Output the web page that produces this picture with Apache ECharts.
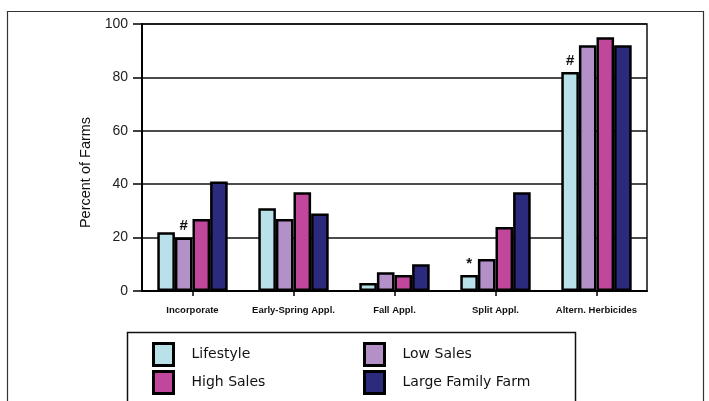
<!DOCTYPE html>
<html><head><meta charset="utf-8">
<script src="https://cdn.jsdelivr.net/npm/echarts@6/dist/echarts.min.js"></script>
<style>html,body{margin:0;padding:0;background:#fff}#c{width:709px;height:401px}</style>
</head><body><div id="c"></div>
<script>
const categories = ['Incorporate', 'Early-Spring Appl.', 'Fall Appl.', 'Split Appl.', 'Altern. Herbicides'];
const seriesNames = ['Lifestyle', 'Low Sales', 'High Sales', 'Large Family Farm'];
const lifestyle = [22, 31, 3, 6, 82];
const lowSales = [20, 27, 7, 12, 92];
const highSales = [27, 37, 6, 24, 95];
const largeFamilyFarm = [41, 29, 10, 37, 92];
// annotation marks: [series index, category index, symbol]
const marks = [[1, 0, '#'], [0, 3, '*'], [0, 4, '#']];
const yTicks = [0, 20, 40, 60, 80, 100];

const colors = ['#b9e1ea', '#b490c9', '#c1479c', '#2c2a7c'];
const values = [lifestyle, lowSales, highSales, largeFamilyFarm];

const series = values.map((vals, si) => ({
  name: seriesNames[si],
  type: 'bar',
  barWidth: 17.6,
  barGap: '0%',
  itemStyle: { color: colors[si], borderColor: '#000', borderWidth: 2.5 },
  data: vals.map((v, ci) => {
    const m = marks.find(k => k[0] === si && k[1] === ci);
    const d = { value: v };
    if (m) d.label = { show: true, position: 'top', formatter: m[2], fontSize: 15, fontWeight: 'bold', color: '#111', distance: 4, fontFamily: 'Liberation Sans' };
    return d;
  })
}));

const legendPos = [[152, 342], [363, 342], [152, 370], [363, 370]];
const legends = seriesNames.map((n, i) => ({
  data: [{ name: n, icon: 'rect', itemStyle: { borderColor: '#000', borderWidth: 3 } }],
  left: legendPos[i][0], top: legendPos[i][1],
  itemWidth: 20, itemHeight: 22, padding: 0,
  textStyle: { fontFamily: 'DejaVu Sans', fontSize: 14, color: '#111', padding: [0, 0, 0, 13] }
}));

const chart = echarts.init(document.getElementById('c'));
chart.setOption({
  animation: false,
  backgroundColor: '#fff',
  graphic: [
    { type: 'rect', shape: { x: 7.5, y: 11.5, width: 696, height: 500 }, style: { fill: 'none', stroke: '#333', lineWidth: 1.2 }, z: -1 },
    { type: 'rect', shape: { x: 127.5, y: 332.5, width: 448, height: 100 }, style: { fill: 'none', stroke: '#111', lineWidth: 1.5 }, z: -1 }
  ],
  legend: legends,
  grid: { left: 142, right: 62, top: 24, bottom: 110, show: true, borderColor: '#111', borderWidth: 1.5, backgroundColor: 'transparent' },
  xAxis: {
    type: 'category', data: categories,
    axisLine: { lineStyle: { color: '#000', width: 2 } },
    axisTick: { show: true, alignWithLabel: true, length: 5, lineStyle: { color: '#000', width: 1.5 } },
    axisLabel: { interval: 0, fontFamily: 'Liberation Sans', fontSize: 9.5, fontWeight: 'bold', color: '#111', margin: 14 }
  },
  yAxis: {
    type: 'value', min: yTicks[0], max: yTicks[yTicks.length - 1], interval: 20,
    name: 'Percent of Farms', nameLocation: 'middle', nameGap: 49,
    nameTextStyle: { fontFamily: 'Liberation Sans', fontSize: 14.5, color: '#111', padding: [0, 30, 0, 0] },
    axisLine: { show: true, lineStyle: { color: '#000', width: 2 } },
    axisTick: { show: true, length: 9, lineStyle: { color: '#000', width: 1.5 } },
    axisLabel: { fontFamily: 'Liberation Sans', fontSize: 14, color: '#222', margin: 14 },
    splitLine: { lineStyle: { color: '#111', width: 1.5 } }
  },
  series: series
});
</script></body></html>
